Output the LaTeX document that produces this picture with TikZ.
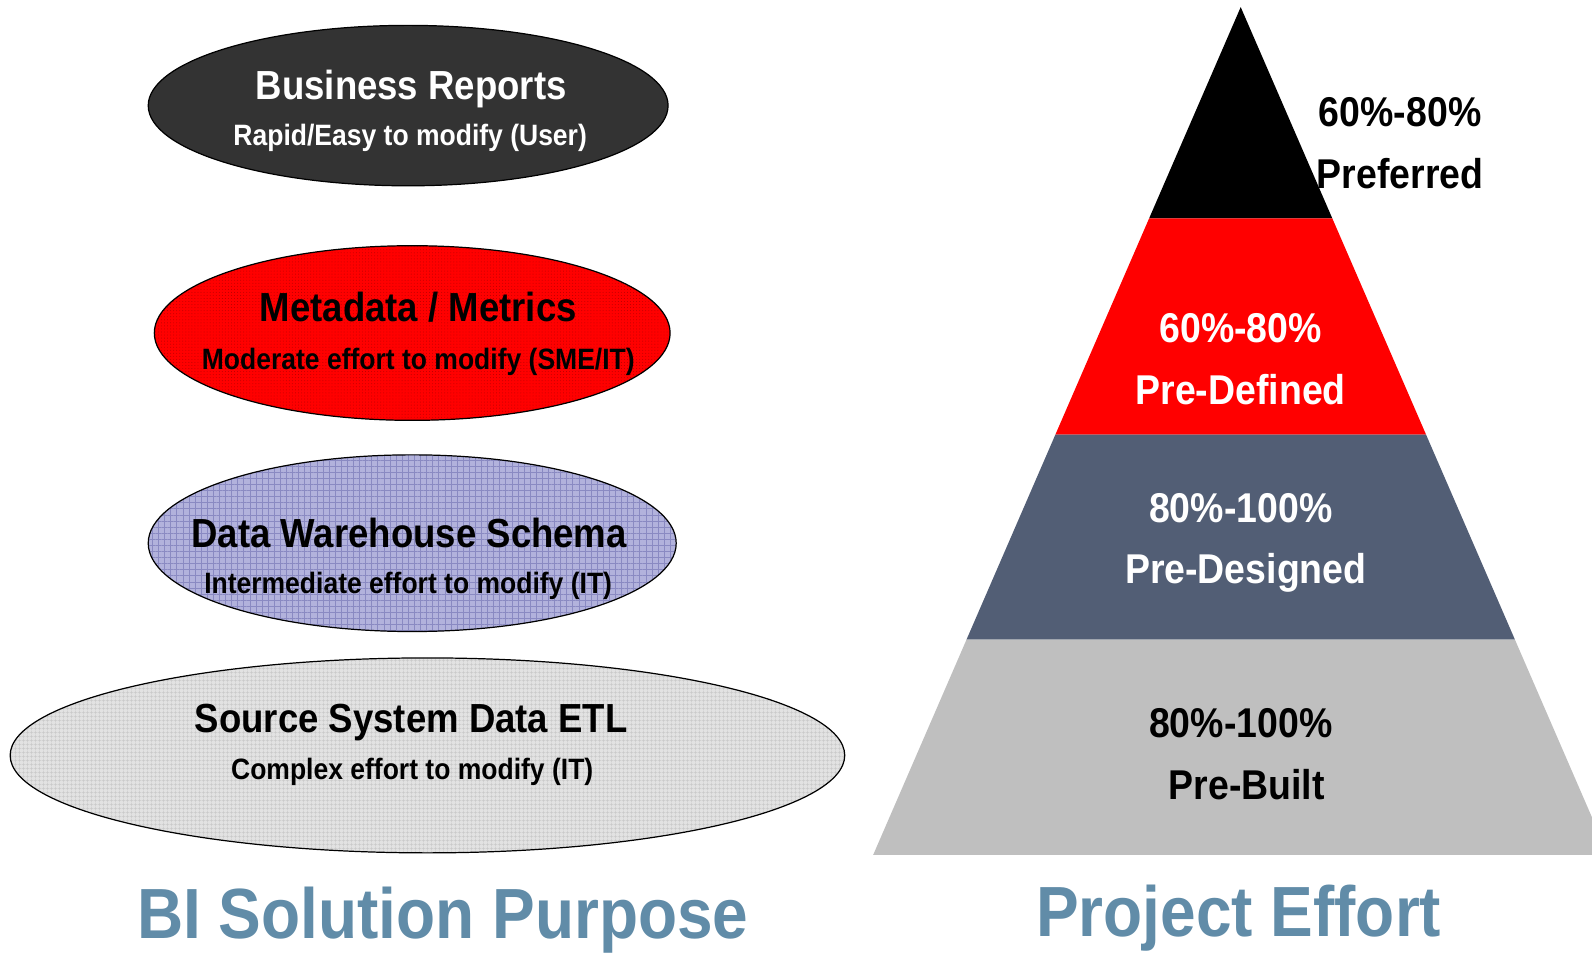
\documentclass[tikz,border=0pt]{standalone}
\usepackage{fontspec}
\setmainfont{Liberation Sans}[FakeStretch=0.9]
\usetikzlibrary{shapes.geometric, patterns.meta, calc}
\definecolor{darkbubble}{RGB}{51,51,51}
\definecolor{lavender}{RGB}{178,178,220}
\definecolor{gridblue}{RGB}{138,138,194}
\definecolor{palegray}{RGB}{226,226,226}
\definecolor{gridgray}{RGB}{200,200,200}
\definecolor{slate}{RGB}{82,94,117}
\definecolor{lightband}{RGB}{191,191,191}
\definecolor{captionblue}{RGB}{97,140,168}

\begin{document}
\begin{tikzpicture}[x=1pt, y=-1pt]
        \tikzstyle{bubble} = [ellipse, draw=black, line width=1.2pt, inner sep=0pt]
        \tikzstyle{headline} = [anchor=base, font=\bfseries\fontsize{40}{48}\selectfont]
        \tikzstyle{subline} = [anchor=base, font=\bfseries\fontsize{29}{34}\selectfont]
        \tikzstyle{tierlabel} = [anchor=base, font=\bfseries\fontsize{41}{48}\selectfont]
        \tikzstyle{bigtitle} = [anchor=base, text=captionblue, font=\bfseries\fontsize{70}{80}\selectfont]

        \useasboundingbox (0,0) rectangle (1568,939);

        % left side: the four layers
        \node (reports) [bubble, fill=darkbubble, minimum width=512pt, minimum height=158pt] at (402,104) {};
        \node (metrics) [bubble, preaction={fill=red}, pattern={Dots[distance=3pt, radius=0.45pt]}, pattern color=red!70!black, minimum width=508pt, minimum height=172pt] at (406,328) {};
        \node (schema) [bubble, preaction={fill=lavender}, pattern={Hatch[distance=6pt, line width=0.4pt]}, pattern color=gridblue, minimum width=520pt, minimum height=174pt] at (406,535) {};
        \node (source) [bubble, preaction={fill=palegray}, pattern={Hatch[distance=4pt, line width=0.4pt]}, pattern color=gridgray, minimum width=822pt, minimum height=192pt] at (421,744) {};

        \node (reportsT) [headline, text=white] at (405,98) {Business Reports};
        \node (reportsS) [subline, text=white] at (404,143) {Rapid/Easy to modify (User)};
        \node (metricsT) [headline] at (412,317) {Metadata / Metrics};
        \node (metricsS) [subline] at (412,364) {Moderate effort to modify (SME/IT)};
        \node (schemaT) [headline] at (403,539) {Data Warehouse Schema};
        \node (schemaS) [subline] at (402,585) {Intermediate effort to modify (IT)};
        \node (sourceT) [headline] at (405,721) {Source System Data ETL};
        \node (sourceS) [subline] at (406,768) {Complex effort to modify (IT)};

        % right side: the pyramid
        \coordinate (apex) at (1222,7);
        \coordinate (baseL) at (860,842);
        \coordinate (baseR) at (1584,842);
        \foreach \name/\t in {a/0.2491, b/0.5042, c/0.7461} {
            \coordinate (\name L) at ($(apex)!\t!(baseL)$);
            \coordinate (\name R) at ($(apex)!\t!(baseR)$);
        }
        \fill[black] (apex) -- (aR) -- (aL) -- cycle;
        \fill[red] (aL) -- (aR) -- (bR) -- (bL) -- cycle;
        \fill[slate] (bL) -- (bR) -- (cR) -- (cL) -- cycle;
        \fill[lightband] (cL) -- (cR) -- (baseR) -- (baseL) -- cycle;

        \node (prefP) [tierlabel] at (1379,125) {60\%-80\%};
        \node (prefN) [tierlabel] at (1379,186) {Preferred};
        \node (defP) [tierlabel, text=white] at (1222,337) {60\%-80\%};
        \node (defN) [tierlabel, text=white] at (1222,398) {Pre-Defined};
        \node (desP) [tierlabel, text=white] at (1222,515) {80\%-100\%};
        \node (desN) [tierlabel, text=white] at (1227,575) {Pre-Designed};
        \node (builtP) [tierlabel] at (1222,726) {80\%-100\%};
        \node (builtN) [tierlabel] at (1228,787) {Pre-Built};

        % captions
        \node (purpose) [bigtitle] at (436,924) {BI Solution Purpose};
        \node (effort) [bigtitle] at (1220,922) {Project Effort};
    \end{tikzpicture}
\end{document}
